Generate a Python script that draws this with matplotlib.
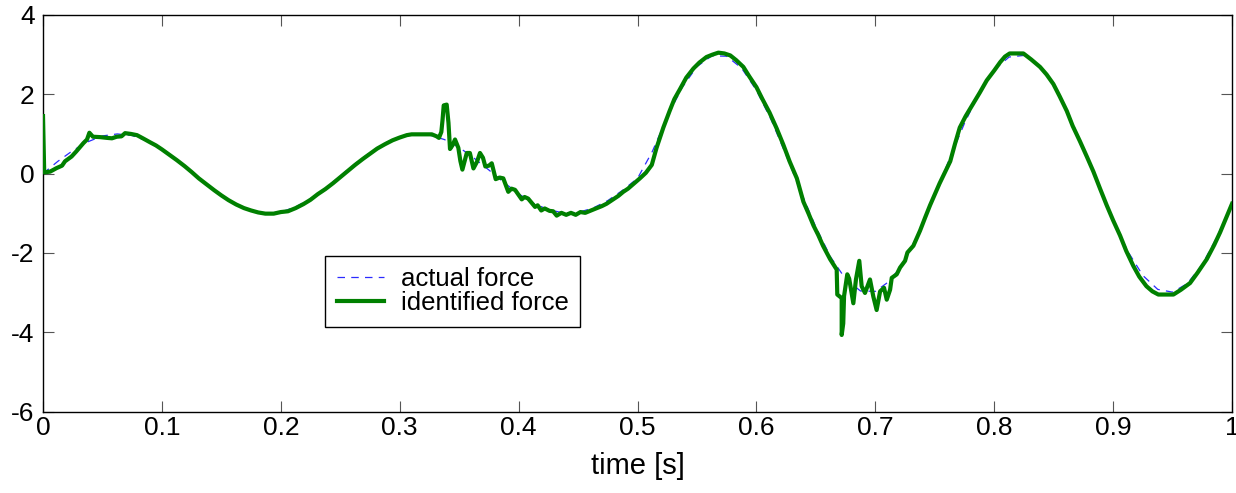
"""
Actual vs identified force over one second of the test run.

Run:
    python plot.py

Output:
    out.png
"""

import matplotlib
matplotlib.use("Agg")
import matplotlib.pyplot as plt
import numpy as np

OUT_PATH = "out.png"

# ── Data ──────────────────────────────────────────────────────────────────

# actual force, sampled every 12.5 ms from 0 to 1 s
ACTUAL_T = np.linspace(0.0, 1.0, 81)
ACTUAL_F = [
    0.00, 0.31, 0.58, 0.80, 0.95, 1.00, 0.96, 0.82, 0.61, 0.34,
    0.03, -0.28, -0.56, -0.79, -0.94, -1.00, -0.97, -0.84, -0.63, -0.37,
    -0.06, 0.25, 0.53, 0.77, 0.93, 1.00, 0.97, 0.86, 0.66, 0.39,
    0.09, -0.22, -0.51, -0.75, -0.91, -0.99, -0.98, -0.87, -0.68, -0.42,
    -0.12, 0.56, 1.43, 2.17, 2.70, 2.97, 2.96, 2.66, 2.10, 1.35,
    0.46, -0.47, -1.35, -2.11, -2.66, -2.96, -2.97, -2.70, -2.17, -1.43,
    -0.55, 0.38, 1.27, 2.04, 2.62, 2.94, 2.98, 2.74, 2.23, 1.51,
    0.64, -0.28, -1.18, -1.97, -2.57, -2.92, -2.99, -2.77, -2.29, -1.59,
    -0.73,
]

# identified force, irregular samples (denser where it is noisy)
IDENT_T = [
    0.0, 0.001, 0.006, 0.0115, 0.016, 0.0185, 0.024, 0.028, 0.034, 0.037,
    0.039, 0.042, 0.048, 0.054, 0.058, 0.062, 0.066, 0.069, 0.074, 0.079,
    0.084, 0.09, 0.095, 0.1, 0.106, 0.1125, 0.119, 0.125, 0.131, 0.1375,
    0.144, 0.15, 0.156, 0.1625, 0.169, 0.175, 0.181, 0.187, 0.194, 0.2,
    0.206, 0.2125, 0.219, 0.225, 0.231, 0.2375, 0.244, 0.25, 0.256, 0.2625,
    0.269, 0.275, 0.281, 0.2875, 0.294, 0.3, 0.306, 0.31, 0.327, 0.331,
    0.333, 0.335, 0.336, 0.337, 0.3395, 0.341, 0.3423, 0.3445, 0.3465, 0.3493,
    0.351, 0.3527, 0.3545, 0.3564, 0.359, 0.362, 0.365, 0.3675, 0.37, 0.372,
    0.375, 0.3774, 0.3807, 0.384, 0.3871, 0.3913, 0.394, 0.397, 0.4026, 0.405,
    0.408, 0.4138, 0.416, 0.419, 0.422, 0.426, 0.429, 0.432, 0.436, 0.44,
    0.444, 0.448, 0.452, 0.456, 0.46, 0.465, 0.47, 0.474, 0.48, 0.484,
    0.488, 0.492, 0.497, 0.502, 0.507, 0.512, 0.516, 0.5217, 0.527, 0.531,
    0.5357, 0.541, 0.547, 0.552, 0.558, 0.563, 0.568, 0.573, 0.578, 0.583,
    0.589, 0.594, 0.6, 0.605, 0.611, 0.617, 0.6226, 0.628, 0.634, 0.6395,
    0.644, 0.648, 0.652, 0.656, 0.662, 0.6675, 0.668, 0.6717, 0.6717, 0.673,
    0.6737, 0.6764, 0.678, 0.6815, 0.6837, 0.6865, 0.6885, 0.6913, 0.6955, 0.6983,
    0.7011, 0.704, 0.7073, 0.7096, 0.7124, 0.7138, 0.718, 0.7208, 0.725, 0.727,
    0.732, 0.7376, 0.742, 0.746, 0.754, 0.763, 0.767, 0.771, 0.776, 0.782,
    0.788, 0.7937, 0.8, 0.805, 0.809, 0.813, 0.8245, 0.831, 0.8385, 0.844,
    0.8497, 0.855, 0.861, 0.866, 0.872, 0.878, 0.8834, 0.889, 0.8946, 0.9,
    0.9058, 0.911, 0.917, 0.922, 0.928, 0.933, 0.938, 0.9507, 0.957, 0.9647,
    0.971, 0.9787, 0.985, 0.99, 0.995, 1.0,
]
IDENT_F = [
    1.45, 0.03, 0.05, 0.14, 0.20, 0.31, 0.43, 0.56, 0.77, 0.86,
    1.03, 0.93, 0.92, 0.90, 0.89, 0.93, 0.94, 1.02, 1.00, 0.97,
    0.89, 0.79, 0.71, 0.61, 0.48, 0.34, 0.19, 0.04, -0.12, -0.27,
    -0.42, -0.55, -0.67, -0.78, -0.87, -0.93, -0.98, -1.01, -1.01, -0.97,
    -0.95, -0.87, -0.77, -0.66, -0.52, -0.39, -0.24, -0.09, 0.06, 0.22,
    0.37, 0.50, 0.63, 0.74, 0.84, 0.91, 0.97, 0.99, 0.99, 0.94,
    0.90, 1.05, 1.35, 1.72, 1.74, 1.28, 0.62, 0.72, 0.86, 0.65,
    0.32, 0.10, 0.30, 0.52, 0.52, 0.13, 0.30, 0.52, 0.40, 0.18,
    0.20, 0.26, -0.14, -0.10, -0.12, -0.46, -0.38, -0.41, -0.65, -0.59,
    -0.63, -0.84, -0.80, -0.93, -0.88, -0.94, -0.95, -1.06, -0.99, -1.04,
    -0.99, -1.04, -0.97, -0.99, -0.94, -0.88, -0.82, -0.76, -0.64, -0.56,
    -0.46, -0.38, -0.25, -0.12, 0.02, 0.22, 0.65, 1.16, 1.58, 1.88,
    2.13, 2.42, 2.65, 2.80, 2.94, 3.00, 3.05, 3.03, 2.98, 2.86,
    2.69, 2.45, 2.18, 1.88, 1.54, 1.14, 0.73, 0.30, -0.12, -0.71,
    -1.02, -1.31, -1.55, -1.82, -2.16, -2.42, -3.05, -3.14, -4.07, -3.78,
    -3.09, -2.54, -2.65, -3.27, -2.67, -2.20, -2.84, -3.01, -2.67, -3.10,
    -3.44, -2.97, -2.88, -3.18, -2.93, -2.63, -2.54, -2.37, -2.20, -1.99,
    -1.82, -1.44, -1.10, -0.80, -0.25, 0.31, 0.75, 1.16, 1.45, 1.75,
    2.05, 2.35, 2.60, 2.81, 2.95, 3.03, 3.03, 2.88, 2.69, 2.50,
    2.26, 1.95, 1.58, 1.20, 0.82, 0.42, 0.05, -0.38, -0.80, -1.18,
    -1.56, -1.95, -2.33, -2.60, -2.84, -2.97, -3.05, -3.05, -2.93, -2.76,
    -2.50, -2.16, -1.80, -1.48, -1.12, -0.76,
]

X_TICKS = [0, 0.1, 0.2, 0.3, 0.4, 0.5, 0.6, 0.7, 0.8, 0.9, 1]
X_TICK_LABELS = ["0", "0.1", "0.2", "0.3", "0.4", "0.5", "0.6", "0.7", "0.8", "0.9", "1"]
Y_TICKS = [-6, -4, -2, 0, 2, 4]

TICK_FONT = 19
LABEL_FONT = 21


def main():
    plt.rcParams["font.family"] = ["Liberation Sans", "DejaVu Sans"]
    plt.rcParams["axes.unicode_minus"] = False   # plain hyphen like the original

    fig = plt.figure(figsize=(12.36, 4.93), dpi=100)
    ax = fig.add_axes([0.0348, 0.1653, 0.962, 0.8043])

    ax.plot(ACTUAL_T, ACTUAL_F, color="#2b2bff", linestyle=(0, (6, 5)),
            linewidth=0.9, label="actual force", zorder=2)
    ax.plot(IDENT_T, IDENT_F, color="#008000", linewidth=3.0,
            solid_joinstyle="round", label="identified force", zorder=3)

    ax.set_xlim(0, 1)
    ax.set_ylim(-6, 4)
    ax.set_xticks(X_TICKS)
    ax.set_xticklabels(X_TICK_LABELS)
    ax.set_yticks(Y_TICKS)

    ax.tick_params(axis="both", direction="in", length=8, width=0.8,
                   labelsize=TICK_FONT, top=True, right=True, color="#555555")
    ax.tick_params(axis="x", pad=3)
    ax.tick_params(axis="y", pad=6)
    for side in ax.spines.values():
        side.set_color("black")
        side.set_linewidth(1.0)

    ax.set_xlabel("time [s]", fontsize=LABEL_FONT, labelpad=9)

    leg = ax.legend(loc="upper left", bbox_to_anchor=(0.2372, 0.393),
                    borderaxespad=0, fontsize=18.5, frameon=True, fancybox=False,
                    handlelength=1.85, handletextpad=0.65, borderpad=0.45,
                    labelspacing=0.0)
    frame = leg.get_frame()
    frame.set_edgecolor("black")
    frame.set_linewidth(1.0)
    frame.set_alpha(1.0)

    fig.savefig(OUT_PATH, dpi=100)
    plt.close(fig)


if __name__ == "__main__":
    main()
